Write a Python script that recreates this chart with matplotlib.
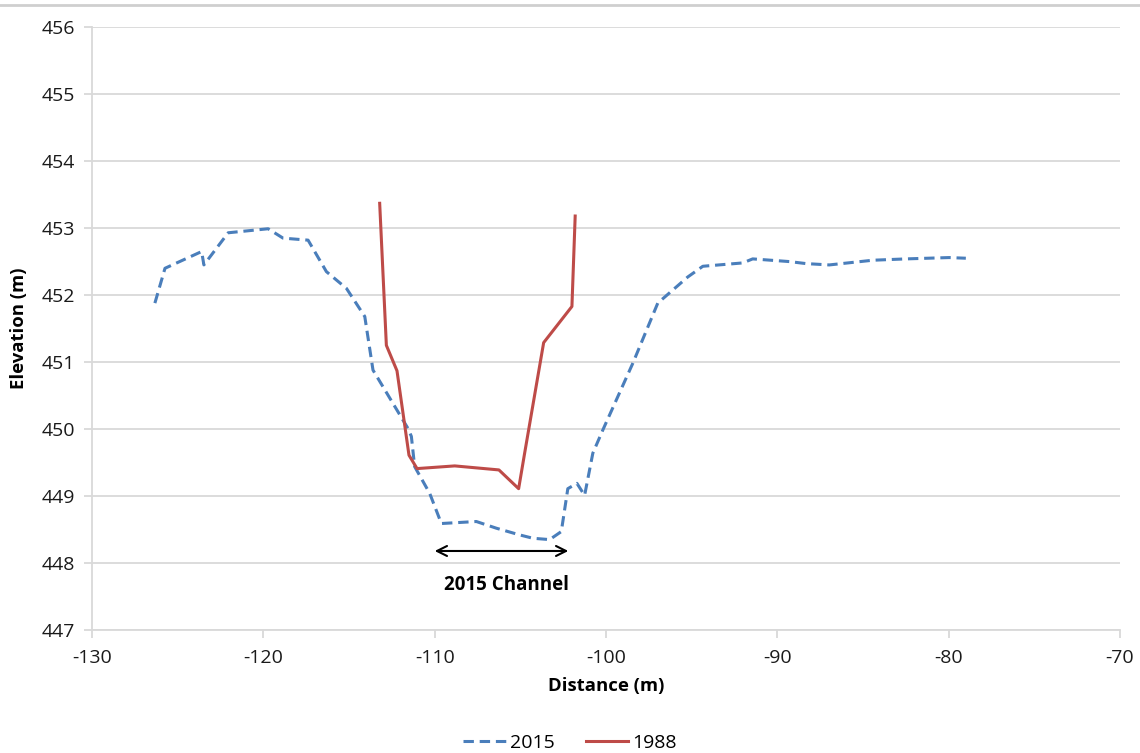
import matplotlib
matplotlib.use("Agg")
import matplotlib.pyplot as plt
from matplotlib.lines import Line2D

plt.rcParams['font.family'] = ['Open Sans', 'DejaVu Sans']
plt.rcParams['axes.unicode_minus'] = False

# 2015 survey profile
dist_2015 = [-126.33, -125.74, -123.6, -123.47, -122.05, -119.72, -118.85, -117.39,
             -116.32, -115.15, -114.08, -113.6, -111.56, -111.36, -111.17, -110.29,
             -109.61, -107.57, -106.4, -105.04, -104.27, -103.29, -102.61, -102.23,
             -101.7, -101.25, -100.77, -100.18, -98.44, -96.98, -95.23, -94.35,
             -92.02, -91.44, -89.3, -88.33, -86.97, -84.44, -82.5, -79.97, -79.0]
elev_2015 = [451.88, 452.40, 452.65, 452.45, 452.93, 452.99, 452.85, 452.82,
             452.35, 452.10, 451.68, 450.88, 450.01, 449.89, 449.44, 449.04,
             448.59, 448.62, 448.52, 448.42, 448.37, 448.35, 448.47, 449.11,
             449.19, 449.01, 449.64, 449.99, 450.98, 451.88, 452.27, 452.43,
             452.48, 452.54, 452.50, 452.47, 452.45, 452.52, 452.54, 452.56, 452.55]

# 1988 survey profile
dist_1988 = [-113.21, -112.82, -112.2, -111.5, -111.03, -108.83, -106.25, -105.1,
             -104.75, -103.64, -101.99, -101.8]
elev_1988 = [453.37, 451.25, 450.87, 449.61, 449.41, 449.45, 449.39, 449.11,
             449.64, 451.29, 451.83, 453.18]

channel_start, channel_end, channel_elev = -110.0, -102.2, 448.18

fig = plt.figure(figsize=(11.4, 7.53), dpi=100)
ax = fig.add_axes([0.0807, 0.1633, 0.9018, 0.8007])

grid_c = '#d9d9d9'
ax.plot(dist_2015, elev_2015, color='#4a7ebb', lw=2.2, linestyle=(0, (3.4, 1.9)), label='2015')
ax.plot(dist_1988, elev_1988, color='#be4b48', lw=2.2, label='1988')

ax.annotate('', xy=(channel_start, channel_elev), xytext=(channel_end, channel_elev),
            arrowprops=dict(arrowstyle='<->', color='black', lw=1.5, mutation_scale=18,
                            shrinkA=0, shrinkB=0))
ax.text(-105.8, 447.67, '2015 Channel', ha='center', va='center',
        fontsize=13.5, fontweight='bold')

ax.set_xlim(-130, -70)
ax.set_ylim(447, 456)
ax.set_xticks(range(-130, -69, 10))
ax.set_yticks(range(447, 457))
ax.yaxis.grid(True, color=grid_c, lw=1.3)
ax.set_axisbelow(True)
for s in ['top', 'right']:
    ax.spines[s].set_visible(False)
for s in ['left', 'bottom']:
    ax.spines[s].set_color(grid_c)
    ax.spines[s].set_linewidth(1.3)
ax.tick_params(axis='both', direction='out', length=6, width=1.3, color=grid_c,
               labelsize=14, labelcolor='#1a1a1a')
ax.tick_params(axis='x', pad=8)
ax.tick_params(axis='y', pad=6)

ax.set_xlabel('Distance (m)', fontsize=13.3, fontweight='bold', labelpad=7)
ax.set_ylabel('Elevation (m)', fontsize=13.3, fontweight='bold', labelpad=10)

fig.legend(loc='lower center', bbox_to_anchor=(0.5, -0.022), ncol=2, frameon=False,
           fontsize=14, handlelength=2.2, columnspacing=1.6, handletextpad=0.2)

fig.add_artist(Line2D([0, 1], [1 - 5 / 753, 1 - 5 / 753], color='#cfcfcf', lw=2,
                      transform=fig.transFigure))

fig.savefig('out.png', dpi=100)
